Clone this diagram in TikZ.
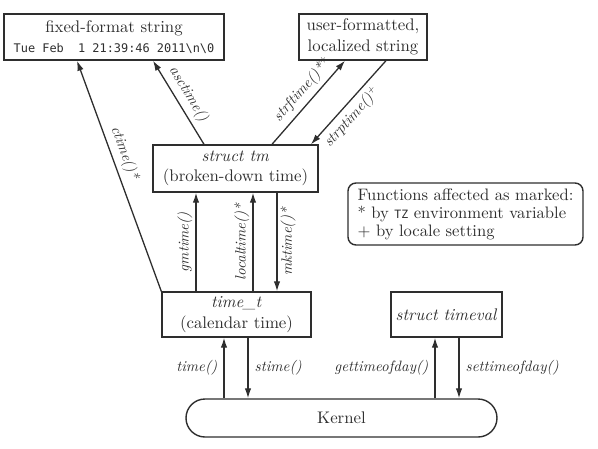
\documentclass[tikz,border=0pt]{standalone}
\usepackage{fontspec}
\setmainfont{lmroman10-regular.otf}[ItalicFont=lmroman10-italic.otf, BoldFont=lmroman10-bold.otf]
\setmonofont{DejaVu Sans Mono}
\usetikzlibrary{arrows.meta,calc}
\definecolor{ink}{gray}{0.18}
\begin{document}
\begin{tikzpicture}[x=1pt,y=-1pt,
  box/.style={draw=ink, line width=1.4pt, inner sep=0pt, align=center,
    font=\fontsize{16.8}{20.5}\selectfont, text=ink},
  arr/.style={draw=ink, line width=1.3pt, -{Latex[length=10pt,width=6.5pt]}},
  rarr/.style={draw=ink, line width=1.3pt, {Latex[length=10pt,width=6.5pt]}-},
  lab/.style={font=\fontsize{15}{18}\selectfont\itshape, text=ink, inner sep=3pt},
  slab/.style={lab, sloped, inner sep=4.5pt}]
\useasboundingbox (0,0) rectangle (598,448);
% boxes
\node[box, minimum width=220pt, minimum height=46pt] (fixed) at (114,37)
  {fixed-format string\\{\fontsize{11.9}{15}\selectfont\ttfamily Tue Feb\ \ 1 21:39:46 2011\textbackslash n\textbackslash 0}};
\node[box, minimum width=128pt, minimum height=46pt] (user) at (363,37)
  {user-formatted,\\localized string};
\node[box, minimum width=165pt, minimum height=47pt] (tm) at (235.5,168.5)
  {\textit{struct tm}\\(broken-down time)};
\node[box, rounded corners=8pt, minimum width=235pt, minimum height=62pt,
  align=left, font=\fontsize{16.6}{18}\selectfont] (func) at (465.5,214)
  {Functions affected as marked:\\* by {\ttfamily\fontsize{11.5}{14}\selectfont TZ} environment variable\\+ by locale setting};
\node[box, minimum width=149pt, minimum height=45pt] (tt) at (236.5,314.5)
  {\textit{time\_t}\\(calendar time)};
\node[box, minimum width=111pt, minimum height=45pt] (tv) at (446.5,314.5)
  {\textit{struct timeval}};
\node[box, rounded corners=19pt, minimum width=311pt, minimum height=38pt] (kern) at (341.5,418)
  {Kernel};
% column coordinates
\coordinate (c1) at (77,0);
\coordinate (c2) at (204,0);
\coordinate (c3) at (153,0);
\coordinate (c4) at (272,0);
\coordinate (c5) at (345,0);
\coordinate (c6) at (386,0);
\coordinate (c7) at (311,0);
\coordinate (xg) at (196,0);
\coordinate (xl) at (253,0);
\coordinate (xm) at (277,0);
\coordinate (xt) at (224,0);
\coordinate (xs) at (248,0);
\coordinate (xgt) at (435,0);
\coordinate (xst) at (459,0);
% connectors
\draw[arr] (tt.north west) -- (fixed.south -| c1)
  node[slab, above, pos=0.58] {ctime()*};
\draw[arr] (tm.north -| c2) -- (fixed.south -| c3)
  node[slab, above, pos=0.52] {asctime()};
\draw[arr] (tm.north -| c4) -- (user.south -| c5)
  node[slab, above, pos=0.55] {strftime()*\textsuperscript{+}};
\draw[arr] (user.south -| c6) -- (tm.north -| c7)
  node[slab, below, pos=0.58] {strptime()\textsuperscript{+}};
\draw[arr] (tt.north -| xg) -- (tm.south -| xg)
  node[lab, sloped, above, midway] {gmtime()};
\draw[arr] (tt.north -| xl) -- (tm.south -| xl)
  node[lab, sloped, above, midway] {localtime()*};
\draw[rarr] (tt.north -| xm) -- (tm.south -| xm)
  node[lab, sloped, below, midway] {mktime()*};
\draw[arr] (kern.north -| xt) -- (tt.south -| xt)
  node[lab, left, midway, xshift=-3pt] {time()};
\draw[arr] (tt.south -| xs) -- (kern.north -| xs)
  node[lab, right, midway, xshift=3pt] {stime()};
\draw[arr] (kern.north -| xgt) -- (tv.south -| xgt)
  node[lab, left, midway, xshift=-3pt] {gettimeofday()};
\draw[arr] (tv.south -| xst) -- (kern.north -| xst)
  node[lab, right, midway, xshift=3pt] {settimeofday()};
\end{tikzpicture}
\end{document}
